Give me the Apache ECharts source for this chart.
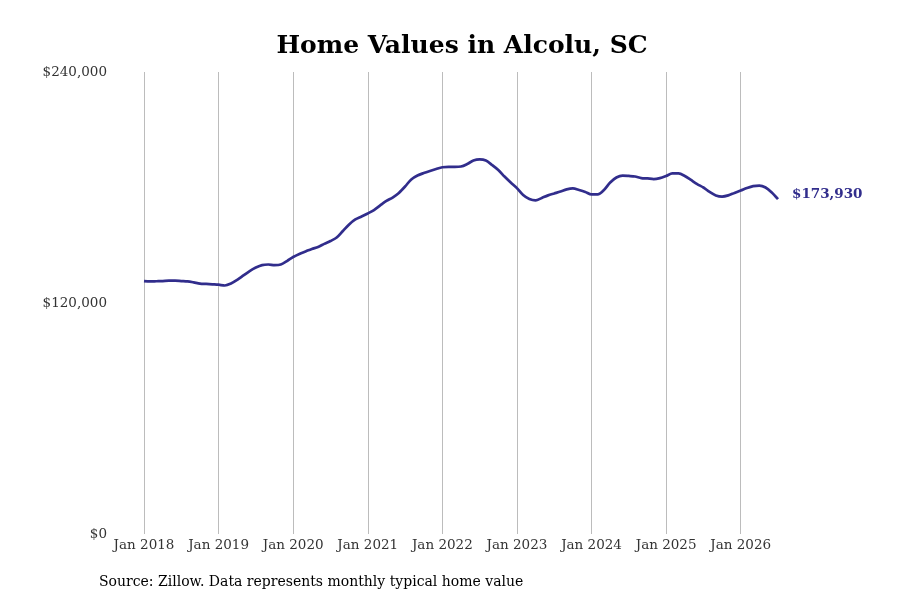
<!DOCTYPE html>
<html>
<head>
<meta charset="utf-8">
<script src="https://cdn.jsdelivr.net/npm/echarts@6/dist/echarts.min.js"></script>
<style>
  html, body { margin: 0; padding: 0; background: #fff; }
  #chart { width: 900px; height: 600px; }
</style>
</head>
<body>
<div id="chart"></div>
<script>
// monthly typical home value, Jan 2018 .. Jul 2026
const years = [2018, 2019, 2020, 2021, 2022, 2023, 2024, 2025, 2026];
const monthNames = ["Jan", "Feb", "Mar", "Apr", "May", "Jun", "Jul", "Aug", "Sep", "Oct", "Nov", "Dec"];

const values2018 = [131400, 131200, 131300, 131400, 131600, 131600, 131400, 131200, 130700, 130100, 129900, 129700];
const values2019 = [129500, 129100, 130100, 132000, 134300, 136600, 138400, 139700, 140000, 139700, 140000, 141800];
const values2020 = [143900, 145500, 146800, 148100, 149100, 150700, 152200, 154000, 157400, 160800, 163400, 164900];
const values2021 = [166500, 168300, 170700, 173000, 174800, 177200, 180500, 184200, 186200, 187500, 188600, 189600];
const values2022 = [190500, 190700, 190700, 190900, 192200, 194000, 194600, 194000, 191700, 189100, 185700, 182600];
const values2023 = [179700, 176100, 174000, 173300, 174600, 175900, 176900, 177900, 179000, 179500, 178700, 177700];
const values2024 = [176400, 176400, 178700, 182600, 185200, 186200, 186000, 185700, 184900, 184700, 184400, 184900];
const values2025 = [186000, 187300, 187300, 186000, 183900, 181800, 180000, 177700, 175900, 175300, 175900, 177200];
const values2026 = [178400, 179700, 180700, 181000, 180000, 177400, 173930];

const homeValues = [].concat(values2018, values2019, values2020, values2021,
    values2022, values2023, values2024, values2025, values2026);

let months = [];
years.forEach(y => monthNames.forEach(m => months.push(m + " " + y)));
months = months.slice(0, homeValues.length);

const yTicks = [0, 120000, 240000];
const lineColor = "#312d8c";
const serif = "DejaVu Serif";

function money(v) {
    return "$" + v.toLocaleString("en-US");
}

let chart = echarts.init(document.getElementById("chart"));

let option = {
    animation: false,
    title: {
        text: "Home Values in Alcolu, SC",
        left: 457,
        top: 29,
        textAlign: "center",
        textStyle: { fontFamily: serif, fontWeight: "bold", fontSize: 25, color: "#000" }
    },
    graphic: [
        {
            type: "text",
            left: 99,
            top: 575,
            style: {
                text: "Source: Zillow. Data represents monthly typical home value",
                font: "14px 'DejaVu Serif'",
                fill: "#000"
            }
        }
    ],
    grid: {
        left: 144,
        right: 122,
        top: 72,
        bottom: 66
    },
    xAxis: {
        type: "category",
        data: months,
        boundaryGap: false,
        axisLine: { show: false },
        axisTick: { show: false },
        axisLabel: {
            interval: 11,
            margin: 4,
            color: "#333",
            fontFamily: serif,
            fontSize: 13.5,
            formatter: v => v
        },
        splitLine: {
            show: true,
            interval: 11,
            lineStyle: { color: "#bcbcbc", width: 1 }
        }
    },
    yAxis: {
        type: "value",
        min: yTicks[0],
        max: yTicks[yTicks.length - 1],
        interval: 120000,
        axisLine: { show: false },
        axisTick: { show: false },
        splitLine: { show: false },
        axisLabel: {
            margin: 37,
            color: "#333",
            fontFamily: serif,
            fontSize: 13.5,
            formatter: v => money(v)
        }
    },
    series: [
        {
            name: "Home value",
            type: "line",
            data: homeValues,
            smooth: 0.3,
            symbol: "none",
            lineStyle: { color: lineColor, width: 2.7 },
            endLabel: {
                show: true,
                distance: 14,
                offset: [0, -5],
                formatter: p => money(p.value),
                color: lineColor,
                fontFamily: serif,
                fontWeight: "bold",
                fontSize: 13.5
            }
        }
    ]
};

chart.setOption(option);
</script>
</body>
</html>
